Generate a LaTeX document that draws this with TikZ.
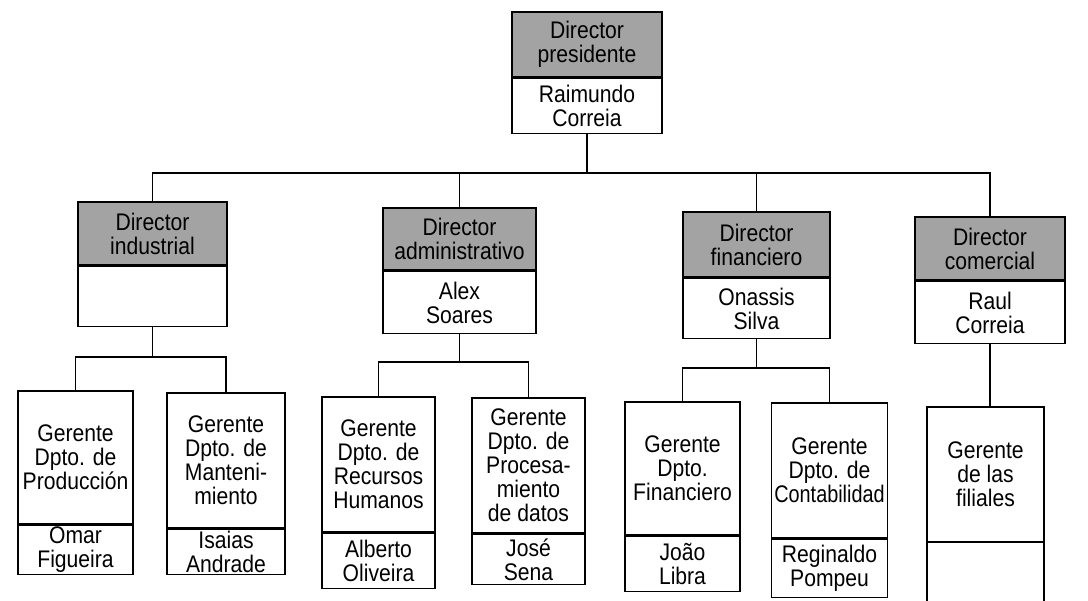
\documentclass[tikz,border=0pt]{standalone}
\usepackage{fontspec}
\setmainfont{Liberation Sans}[FakeStretch=0.88]
\usepackage{graphicx}
\begin{document}
\begin{tikzpicture}[x=1bp,y=-1bp,
  every node/.style={inner sep=0pt, align=center, font=\fontsize{24bp}{24bp}\selectfont},
  hdr/.style={draw, fill=black!36, line width=1.5bp},
  bdy/.style={draw, fill=white, line width=1.5bp},
  conn/.style={line width=1.5bp}]
\useasboundingbox (0,0) rectangle (1088,601);
% top
\node[hdr, minimum width=150bp, minimum height=65bp] (presH) at (587,44.5) {Director\\presidente};
\node[bdy, minimum width=150bp, minimum height=55bp, anchor=north] (presB) at (presH.south) {Raimundo\\Correia};
% directors
\node[hdr, minimum width=149bp, minimum height=63bp] (indH) at (152.5,233.5) {Director\\industrial};
\node[bdy, minimum width=149bp, minimum height=60bp, anchor=north] (indB) at (indH.south) {};
\node[hdr, minimum width=153bp, minimum height=62bp] (admH) at (459.5,239) {Director\\administrativo};
\node[bdy, minimum width=153bp, minimum height=62bp, anchor=north] (admB) at (admH.south) {Alex\\Soares};
\node[hdr, minimum width=147bp, minimum height=65bp] (finH) at (756.5,244.5) {Director\\financiero};
\node[bdy, minimum width=147bp, minimum height=60bp, anchor=north] (finB) at (finH.south) {Onassis\\Silva};
\node[hdr, minimum width=150bp, minimum height=63bp] (comH) at (990,248.5) {Director\\comercial};
\node[bdy, minimum width=150bp, minimum height=62bp, anchor=north] (comB) at (comH.south) {Raul\\Correia};
% managers
\node[bdy, minimum width=115bp, minimum height=133bp] (g1H) at (75.5,457.5) {Gerente\\Dpto. de\\Producción};
\node[bdy, minimum width=115bp, minimum height=49bp, anchor=north] (g1B) at (g1H.south) {Omar\\Figueira};
\node[bdy, minimum width=118bp, minimum height=135bp] (g2H) at (226,460.5) {Gerente\\Dpto. de\\Manteni-\\miento};
\node[bdy, minimum width=118bp, minimum height=45bp, anchor=north] (g2B) at (g2H.south) {Isaias\\Andrade};
\node[bdy, minimum width=113bp, minimum height=135bp] (g3H) at (378.5,464.5) {Gerente\\Dpto. de\\Recursos\\Humanos};
\node[bdy, minimum width=113bp, minimum height=55bp, anchor=north] (g3B) at (g3H.south) {Alberto\\Oliveira};
\node[bdy, minimum width=113bp, minimum height=135bp] (g4H) at (528.5,465.5) {Gerente\\Dpto. de\\Procesa-\\miento\\de datos};
\node[bdy, minimum width=113bp, minimum height=50bp, anchor=north] (g4B) at (g4H.south) {José\\Sena};
\node[bdy, minimum width=115bp, minimum height=133bp] (g5H) at (682.5,468.5) {Gerente\\Dpto.\\Financiero};
\node[bdy, minimum width=115bp, minimum height=55bp, anchor=north] (g5B) at (g5H.south) {João\\Libra};
\node[bdy, minimum width=116bp, minimum height=135bp] (g6H) at (829.5,470.5) {Gerente\\Dpto. de\\\scalebox{0.94}[1]{Contabilidad}};
\node[bdy, minimum width=116bp, minimum height=58bp, anchor=north] (g6B) at (g6H.south) {Reginaldo\\Pompeu};
\node[bdy, minimum width=117bp, minimum height=135bp] (g7H) at (985.5,474.5) {Gerente\\de las\\filiales};
\node[minimum width=117bp, minimum height=70bp, anchor=north] (g7B) at (g7H.south) {};
\draw[conn] (g7B.south west) -- (g7B.north west);
\draw[conn] (g7B.south east) -- (g7B.north east);
% connectors
\coordinate (bus) at (587,173);
\draw[conn] (presB.south) -- (bus);
\draw[conn] (bus) -| (indH.north);
\draw[conn] (bus) -| (admH.north);
\draw[conn] (bus) -| (finH.north);
\draw[conn] (bus) -| (comH.north);
\coordinate (indbus) at (152.5,357);
\draw[conn] (indB.south) -- (indbus);
\draw[conn] (indbus) -| (g1H.north);
\draw[conn] (indbus) -| (g2H.north);
\coordinate (admbus) at (459.5,362);
\draw[conn] (admB.south) -- (admbus);
\draw[conn] (admbus) -| (g3H.north);
\draw[conn] (admbus) -| (g4H.north);
\coordinate (finbus) at (756.5,368);
\draw[conn] (finB.south) -- (finbus);
\draw[conn] (finbus) -| (g5H.north);
\draw[conn] (finbus) -| (g6H.north);
\draw[conn] (comB.south) -- (comB.south |- g7H.north);
\end{tikzpicture}
\end{document}
